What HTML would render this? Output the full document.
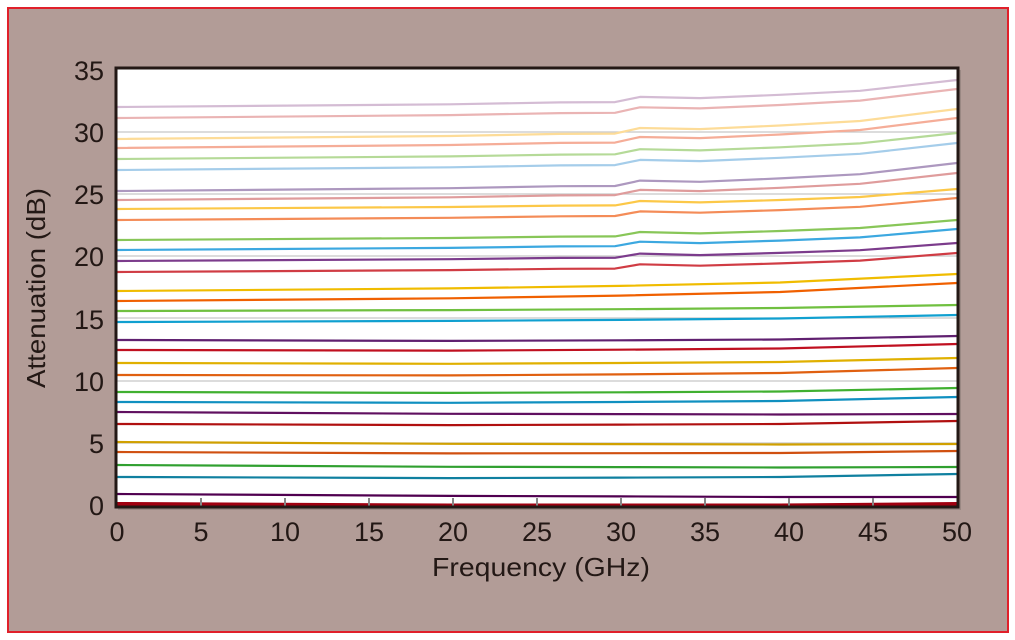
<!DOCTYPE html>
<html><head><meta charset="utf-8"><style>
html,body{margin:0;padding:0;background:#fff;}
svg{display:block;}
text{font-family:"Liberation Sans",sans-serif;fill:#231815;}
</style></head><body>
<svg id="s" width="1015" height="640" viewBox="0 0 1015 640" xmlns="http://www.w3.org/2000/svg">
<rect x="8" y="8" width="1000" height="624" fill="#b29c97" stroke="#e0202a" stroke-width="2"/>
<rect x="118" y="70" width="843" height="440" fill="#9a8883"/>
<rect x="116" y="68" width="842" height="439" fill="#fff"/>
<g id="grid" stroke="#c8c8c8" stroke-width="1.3">
<line x1="117" x2="957" y1="132" y2="132"/><line x1="117" x2="957" y1="194" y2="194"/>
<line x1="117" x2="957" y1="256" y2="256"/><line x1="117" x2="957" y1="318" y2="318"/>
<line x1="117" x2="957" y1="381" y2="381"/><line x1="117" x2="957" y1="443" y2="443"/>
</g>
<g id="lines" fill="none" stroke-width="2.2" stroke-linejoin="round"></g>
<g stroke="#888" stroke-width="2">
<line x1="201" x2="201" y1="498" y2="506"/><line x1="285" x2="285" y1="498" y2="506"/>
<line x1="369" x2="369" y1="498" y2="506"/><line x1="453" x2="453" y1="498" y2="506"/>
<line x1="537" x2="537" y1="498" y2="506"/><line x1="621" x2="621" y1="498" y2="506"/>
<line x1="705" x2="705" y1="498" y2="506"/><line x1="789" x2="789" y1="498" y2="506"/>
<line x1="873" x2="873" y1="498" y2="506"/>
</g>
<rect x="116" y="68" width="842" height="439" fill="none" stroke="#231815" stroke-width="3"/>
<g font-size="27" text-anchor="end">
<text x="104" y="80">35</text><text x="104" y="142">30</text><text x="104" y="204">25</text>
<text x="104" y="266">20</text><text x="104" y="329">15</text><text x="104" y="391">10</text>
<text x="104" y="453">5</text><text x="104" y="515">0</text>
</g>
<g font-size="27" text-anchor="middle">
<text x="117" y="541">0</text><text x="201" y="541">5</text><text x="285" y="541">10</text>
<text x="369" y="541">15</text><text x="453" y="541">20</text><text x="537" y="541">25</text>
<text x="621" y="541">30</text><text x="705" y="541">35</text><text x="789" y="541">40</text>
<text x="873" y="541">45</text><text x="957" y="541">50</text>
</g>
<g font-size="26">
<text x="432" y="576" textLength="218" lengthAdjust="spacingAndGlyphs">Frequency (GHz)</text>
<text transform="translate(45,388) rotate(-90)" textLength="200" lengthAdjust="spacingAndGlyphs">Attenuation (dB)</text>
</g>
</svg>
<script>
var d=[
["#d4bcd4",107,80,1],["#eab4b4",118,89,1],["#fddc98",139,109,1],["#f5ad98",148,118,1],
["#b5da98",159,133,1],["#a5cdea",170,143,1],["#ad98bf",191,163,1],["#df9c9c",200,173,1],
["#fcc848",209,189,1],["#f48c58",220,198,1],["#88c658",240,220,1],["#3ca8e0",250,229,1],
["#7c3c8c",261,243,1],["#d03c44",272,253,1],["#f0bc00",291,274,0],["#f06000",301,283,0],
["#70c040",311,305,0],["#10a0d0",322,315,0],["#602070",340,336,0],["#c01020",350,344,0],
["#e0b000",363,358,0],["#e06010",375,368,0],["#40b030",392,388,0],["#1090c0",402,397,0],
["#601060",412,414,0],["#b01010",424,421,0],["#d0a000",442,444,0],["#d05010",452,451,0],
["#30a030",465,467,0],["#1080a0",477,474,0],["#500050",494,497,0],["#a00010",504,504,0]];
var g=document.getElementById("lines"),s="";
d.forEach(function(a,i){var y0=a[1],y1=a[2],k=y0-y1,p;
if(a[3]){p=[[117,y0],[450,y0-0.1*k],[560,y0-0.17*k],[615,y0-0.18*k],[640,y0-0.3*k-2],[700,y0-0.33*k],[780,y0-0.45*k],[860,y0-0.6*k],[957,y1]];}
else{var dip=(i>17)?1.5:0;p=[[117,y0],[450,y0-0.15*k+dip],[620,y0-0.3*k+dip],[780,y0-0.5*k+dip],[957,y1]];}
var w=(i==31)?4:2.2;
s+='<polyline stroke="'+a[0]+'" stroke-width="'+w+'" points="'+p.map(function(q){return q[0]+","+q[1].toFixed(1)}).join(" ")+'"/>';});
g.innerHTML=s;
</script>
</body></html>
